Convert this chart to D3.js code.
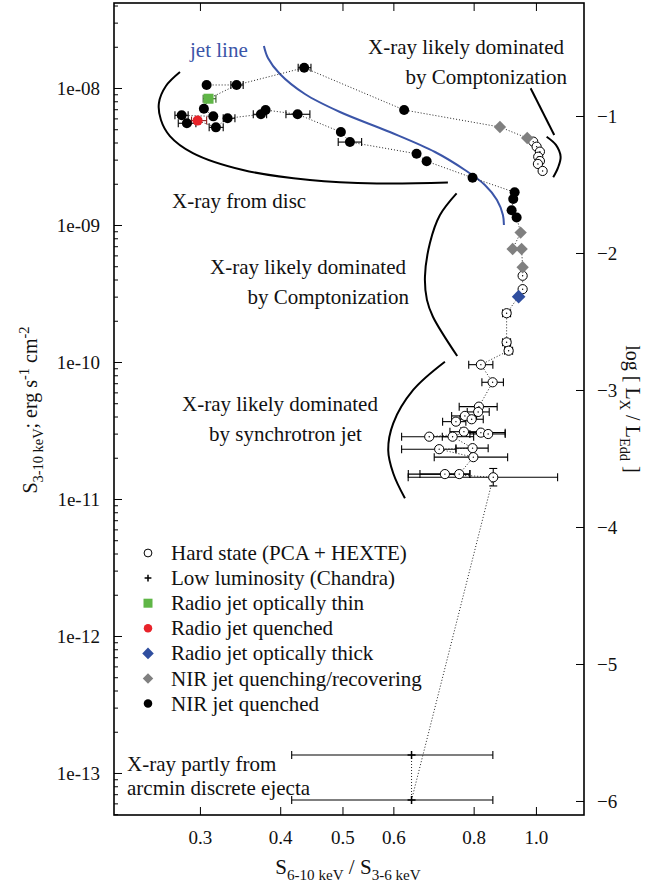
<!DOCTYPE html>
<html>
<head>
<meta charset="utf-8">
<script src="https://cdn.jsdelivr.net/npm/d3@7"></script>
<style>
  body { margin: 0; background: #fff; }
  svg { display: block; font-family: "Liberation Serif", "Times New Roman", serif; }
</style>
</head>
<body>
<svg id="chart" width="660" height="883"></svg>
<script>
// ---- data ----
var xTicks = [0.3, 0.4, 0.5, 0.6, 0.8, 1.0];
var yTicks = [1e-13, 1e-12, 1e-11, 1e-10, 1e-9, 1e-8];
var lumTicks = [-1, -2, -3, -4, -5, -6];
var lumOffset = 7.2044; // log Lx/LEdd = log S + offset

// hard state (PCA + HEXTE), open circles
var hardState = [
  {x: 0.9904, y: 4.06e-9}, {x: 1.0025, y: 3.73e-9}, {x: 1.0144, y: 3.43e-9},
  {x: 1.0083, y: 3.15e-9}, {x: 1.0144, y: 2.93e-9}, {x: 1.0072, y: 2.79e-9},
  {x: 1.0243, y: 2.48e-9},
  {x: 0.9535, y: 4.26e-10}, {x: 0.9535, y: 3.40e-10},
  {x: 0.9003, y: 2.27e-10, xlo: 0.8875, xhi: 0.9131},
  {x: 0.9003, y: 1.392e-10, xlo: 0.8875, xhi: 0.9131},
  {x: 0.9068, y: 1.209e-10, xlo: 0.894, xhi: 0.9197},
  {x: 0.8210, y: 9.56e-11, xlo: 0.786, xhi: 0.857},
  {x: 0.8563, y: 7.11e-11, xlo: 0.824, xhi: 0.890},
  {x: 0.8152, y: 4.72e-11, xlo: 0.7596, xhi: 0.8703},
  {x: 0.8131, y: 4.32e-11, xlo: 0.7818, xhi: 0.8459},
  {x: 0.7753, y: 4.04e-11, xlo: 0.7393, xhi: 0.8084},
  {x: 0.7943, y: 3.82e-11, xlo: 0.7615, xhi: 0.8280},
  {x: 0.7508, y: 3.67e-11, xlo: 0.7158, xhi: 0.7780},
  {x: 0.7726, y: 3.10e-11, xlo: 0.7348, xhi: 0.8162},
  {x: 0.8210, y: 3.05e-11, xlo: 0.7802, xhi: 0.8957},
  {x: 0.8427, y: 2.98e-11, xlo: 0.7893, xhi: 0.8957},
  {x: 0.6823, y: 2.85e-11, xlo: 0.618, xhi: 0.7419},
  {x: 0.7419, y: 2.85e-11, xlo: 0.715, xhi: 0.80},
  {x: 0.7071, y: 2.31e-11, xlo: 0.618, xhi: 0.7508},
  {x: 0.7969, y: 2.35e-11, xlo: 0.7508, xhi: 0.8427},
  {x: 0.7991, y: 2.02e-11, xlo: 0.6946, xhi: 0.9036},
  {x: 0.7217, y: 1.52e-11, xlo: 0.633, xhi: 0.7893},
  {x: 0.7597, y: 1.52e-11, xlo: 0.660, xhi: 0.7893},
  {x: 0.8582, y: 1.44e-11, xlo: 0.6327, xhi: 1.0808, ylo: 1.245e-11, yhi: 1.67e-11}
];

// low luminosity (Chandra)
var chandra = [
  {x: 0.6404, y: 1.353e-13, xlo: 0.4168, xhi: 0.857},
  {x: 0.6404, y: 6.35e-14, xlo: 0.4168, xhi: 0.857}
];

var radioThin = [{x: 0.3094, y: 8.35e-9, xlo: 0.3035, xhi: 0.3177}];
var radioQuenched = [{x: 0.2975, y: 5.78e-9, xlo: 0.2911, xhi: 0.3073}];
var radioThick = [{x: 0.9399, y: 3.00e-10}];

var nirRecover = [
  {x: 0.8790, y: 5.19e-9}, {x: 0.9693, y: 4.31e-9}, {x: 0.9467, y: 8.80e-10},
  {x: 0.9199, y: 6.68e-10}, {x: 0.9500, y: 6.68e-10}, {x: 0.9535, y: 4.91e-10}
];

var nirQuenched = [
  {x: 0.4359, y: 1.406e-8, xlo: 0.4266, xhi: 0.4466},
  {x: 0.3073, y: 1.052e-8},
  {x: 0.3421, y: 1.052e-8, xlo: 0.3352, xhi: 0.3503},
  {x: 0.3043, y: 7.06e-9},
  {x: 0.2810, y: 6.32e-9, xlo: 0.2743, xhi: 0.2876},
  {x: 0.3147, y: 6.21e-9},
  {x: 0.3313, y: 6.01e-9, xlo: 0.3261, xhi: 0.3401},
  {x: 0.2863, y: 5.53e-9, xlo: 0.2776, xhi: 0.2957},
  {x: 0.3177, y: 5.16e-9, xlo: 0.3101, xhi: 0.3261},
  {x: 0.3733, y: 6.43e-9, xlo: 0.3632, xhi: 0.3810},
  {x: 0.3796, y: 6.91e-9},
  {x: 0.4257, y: 6.43e-9, xlo: 0.4083, xhi: 0.4449},
  {x: 0.6236, y: 6.91e-9},
  {x: 0.4971, y: 4.77e-9},
  {x: 0.5135, y: 4.03e-9, xlo: 0.4924, xhi: 0.5355},
  {x: 0.6520, y: 3.31e-9},
  {x: 0.6760, y: 2.92e-9},
  {x: 0.7969, y: 2.21e-9},
  {x: 0.9266, y: 1.733e-9},
  {x: 0.9219, y: 1.548e-9},
  {x: 0.9166, y: 1.281e-9},
  {x: 0.9332, y: 1.134e-9}
];

// time ordering of the dotted track: [series, index]
var trackUpper = [["nq", 1], ["nq", 2], ["nq", 0], ["nq", 12], ["nr", 0], ["nr", 1],
  ["hs", 0], ["hs", 1], ["hs", 2], ["hs", 3], ["hs", 4], ["hs", 5], ["hs", 6]];
var trackLower = [["nq", 2], ["rt", 0], ["nq", 3], ["nq", 5], ["nq", 4], ["nq", 7], ["rq", 0],
  ["nq", 8], ["nq", 6], ["nq", 9], ["nq", 10], ["nq", 11], ["nq", 13], ["nq", 14], ["nq", 15],
  ["nq", 16], ["nq", 17], ["nq", 18], ["nq", 19], ["nq", 20], ["nq", 21],
  ["nr", 2], ["nr", 3], ["nr", 4], ["nr", 5], ["hs", 7], ["hs", 8], ["rk", 0],
  ["hs", 9], ["hs", 10], ["hs", 11], ["hs", 12], ["hs", 13], ["hs", 14], ["hs", 15],
  ["hs", 17], ["hs", 16], ["hs", 18], ["hs", 19], ["hs", 21], ["hs", 20], ["hs", 22],
  ["hs", 23], ["hs", 25], ["hs", 24], ["hs", 26], ["hs", 28], ["hs", 27], ["hs", 29],
  ["ch", 1], ["ch", 0]];

// annotation curves in data coordinates
var jetLine = [[0.3773, 2.025e-8], [0.3828, 1.656e-8], [0.3996, 1.265e-8], [0.4370, 9.04e-9],
  [0.4955, 6.68e-9], [0.5925, 4.77e-9], [0.6966, 3.41e-9], [0.7754, 2.52e-9],
  [0.8329, 1.959e-9], [0.8697, 1.522e-9], [0.8885, 1.183e-9], [0.8917, 1.0e-9]];
var discCurve = [[0.2793, 1.308e-8], [0.2656, 1.034e-8], [0.2590, 7.77e-9], [0.2609, 5.84e-9],
  [0.2694, 4.46e-9], [0.2925, 3.35e-9], [0.3500, 2.52e-9], [0.4449, 2.13e-9],
  [0.5657, 2.01e-9], [0.7295, 2.04e-9]];
var comptTopLine = [[0.9812, 9.95e-9], [1.0678, 4.54e-9]];
var comptTopCurve = [[1.0391, 4.41e-9], [1.0743, 3.84e-9], [1.0925, 3.15e-9],
  [1.0820, 2.61e-9], [1.0639, 2.23e-9]];
var comptMidCurve = [[0.7526, 1.703e-9], [0.7090, 1.183e-9], [0.6840, 7.39e-10],
  [0.6719, 4.19e-10], [0.6767, 2.84e-10], [0.6914, 2.14e-10], [0.7542, 1.106e-10]];
var synchCurve = [[0.7217, 1.005e-10], [0.6442, 6.25e-11], [0.5997, 3.57e-11],
  [0.5890, 2.28e-11], [0.5997, 1.54e-11], [0.6254, 1.012e-11]];

var legendItems = [
  {label: "Hard state (PCA + HEXTE)", kind: "open"},
  {label: "Low luminosity (Chandra)", kind: "plus"},
  {label: "Radio jet optically thin", kind: "square"},
  {label: "Radio jet quenched", kind: "red"},
  {label: "Radio jet optically thick", kind: "blue"},
  {label: "NIR jet quenching/recovering", kind: "gray"},
  {label: "NIR jet quenched", kind: "black"}
];

// ---- layout ----
var plot = {left: 114, right: 584, top: 3, bottom: 815};
var green = "#5fb646", red = "#e8232a", blue = "#2f4e9f", gray = "#808080", jetBlue = "#3b55a8";
var serif = "Liberation Serif, Times New Roman, serif";

var svg = d3.select("#chart");

var x = d3.scaleLog().domain([0.2205, 1.188]).range([plot.left, plot.right]);
var y = d3.scaleLog().domain([4.935e-14, 4.173e-8]).range([plot.bottom, plot.top]);
var yLum = d3.scaleLinear()
  .domain(y.domain().map(function(v) { return Math.log10(v) + lumOffset; }))
  .range([plot.bottom, plot.top]);

// axes, ticks inside the frame
var fmtY = function(d) {
  var e = Math.round(-Math.log10(d));
  return "1e-" + (e < 10 ? "0" + e : e);
};
var minorY = [];
[1e-14].concat(yTicks).forEach(function(t) {
  for (var k = 2; k <= 9; k++) minorY.push(t * k);
});
minorY = minorY.filter(function(v) { return v > y.domain()[0] && v < y.domain()[1]; });

var gx = svg.append("g")
  .attr("transform", "translate(0," + plot.bottom + ")")
  .call(d3.axisBottom(x).tickValues(xTicks).tickSize(-8).tickPadding(16).tickFormat(d3.format(".1f")));
svg.append("g")
  .attr("transform", "translate(0," + plot.top + ")")
  .call(d3.axisTop(x).tickValues(xTicks).tickSize(-8).tickFormat(""));
var gy = svg.append("g")
  .attr("transform", "translate(" + plot.left + ",0)")
  .call(d3.axisLeft(y).tickValues(yTicks).tickSize(-8).tickPadding(14).tickFormat(fmtY));
svg.append("g")
  .attr("transform", "translate(" + plot.left + ",0)")
  .call(d3.axisLeft(y).tickValues(minorY).tickSize(-4).tickFormat(""));
var gr = svg.append("g")
  .attr("transform", "translate(" + plot.right + ",0)")
  .call(d3.axisRight(yLum).tickValues(lumTicks).tickSize(-8).tickPadding(13).tickFormat(d3.format("d")));

svg.selectAll(".domain").remove();
svg.selectAll(".tick line").attr("stroke", "#000").attr("stroke-width", 1);
[gx, gy, gr].forEach(function(g) {
  g.attr("font-family", serif).attr("font-size", 19);
  g.selectAll("text").attr("fill", "#111");
});

// frame
svg.append("rect")
  .attr("x", plot.left).attr("y", plot.top)
  .attr("width", plot.right - plot.left).attr("height", plot.bottom - plot.top)
  .attr("fill", "none").attr("stroke", "#000").attr("stroke-width", 1.6);

// rich text helper for sub/superscripts
function richText(sel, parts, base) {
  parts.forEach(function(p) {
    var t = sel.append("tspan").text(p[0]);
    if (p[1] === "sub") t.attr("dy", base * 0.3).style("font-size", (base * 0.72) + "px");
    else if (p[1] === "sup") t.attr("dy", -base * 0.42).style("font-size", (base * 0.72) + "px");
    else if (p[1] === "upFromSub") t.attr("dy", -base * 0.3);
    else if (p[1] === "downFromSup") t.attr("dy", base * 0.42);
  });
}

// axis titles
var tLeft = svg.append("text")
  .attr("transform", "translate(37,410) rotate(-90)")
  .attr("text-anchor", "middle").style("font-size", "20px").attr("fill", "#111");
richText(tLeft, [["S"], ["3-10 keV", "sub"], ["; erg s", "upFromSub"], ["-1", "sup"],
  [" cm", "downFromSup"], ["-2", "sup"]], 20);

var tRight = svg.append("text")
  .attr("transform", "translate(626,409) rotate(90)")
  .attr("text-anchor", "middle").style("font-size", "20px").attr("fill", "#111");
richText(tRight, [["log [ L"], ["X", "sub"], [" / L", "upFromSub"], ["Edd", "sub"], [" ]", "upFromSub"]], 20);

var tBottom = svg.append("text")
  .attr("x", 348).attr("y", 874)
  .attr("text-anchor", "middle").style("font-size", "21px").attr("fill", "#111");
richText(tBottom, [["S"], ["6-10 keV", "sub"], [" / S", "upFromSub"], ["3-6 keV", "sub"]], 21);

// annotation curves
var curve = d3.line()
  .x(function(d) { return x(d[0]); })
  .y(function(d) { return y(d[1]); })
  .curve(d3.curveCatmullRom.alpha(0.5));

[discCurve, comptTopLine, comptTopCurve, comptMidCurve, synchCurve].forEach(function(c) {
  svg.append("path").attr("d", curve(c))
    .attr("fill", "none").attr("stroke", "#000").attr("stroke-width", 2);
});
svg.append("path").attr("d", curve(jetLine))
  .attr("fill", "none").attr("stroke", jetBlue).attr("stroke-width", 2);

// dotted time track
var series = {hs: hardState, ch: chandra, rt: radioThin, rq: radioQuenched,
  rk: radioThick, nr: nirRecover, nq: nirQuenched};
var trackLine = d3.line()
  .x(function(d) { return x(series[d[0]][d[1]].x); })
  .y(function(d) { return y(series[d[0]][d[1]].y); });
[trackUpper, trackLower].forEach(function(tr) {
  svg.append("path").attr("d", trackLine(tr))
    .attr("fill", "none").attr("stroke", "#222").attr("stroke-width", 1)
    .attr("stroke-dasharray", "1,2");
});

// error bars
function errorBars(data, color) {
  var g = svg.append("g").attr("stroke", color).attr("stroke-width", 1.1);
  data.filter(function(d) { return d.xlo; }).forEach(function(d) {
    var yy = y(d.y);
    g.append("line").attr("x1", x(d.xlo)).attr("x2", x(d.xhi)).attr("y1", yy).attr("y2", yy);
    g.append("line").attr("x1", x(d.xlo)).attr("x2", x(d.xlo)).attr("y1", yy - 4).attr("y2", yy + 4);
    g.append("line").attr("x1", x(d.xhi)).attr("x2", x(d.xhi)).attr("y1", yy - 4).attr("y2", yy + 4);
  });
  data.filter(function(d) { return d.ylo; }).forEach(function(d) {
    var xx = x(d.x);
    g.append("line").attr("x1", xx).attr("x2", xx).attr("y1", y(d.ylo)).attr("y2", y(d.yhi));
    g.append("line").attr("x1", xx - 4).attr("x2", xx + 4).attr("y1", y(d.ylo)).attr("y2", y(d.ylo));
    g.append("line").attr("x1", xx - 4).attr("x2", xx + 4).attr("y1", y(d.yhi)).attr("y2", y(d.yhi));
  });
}
errorBars(hardState, "#000");
errorBars(chandra, "#000");
errorBars(nirQuenched, "#000");
errorBars(radioThin, "#2d5a1e");
errorBars(radioQuenched, "#8a1d1d");

// markers
function drawMarker(g, kind, cx, cy, s) {
  s = s || 1;
  if (kind === "open") {
    g.append("circle").attr("cx", cx).attr("cy", cy).attr("r", 4.6 * s)
      .attr("fill", "#fff").attr("stroke", "#000").attr("stroke-width", 1);
    if (s === 1) g.append("circle").attr("cx", cx).attr("cy", cy).attr("r", 0.7).attr("fill", "#000");
  } else if (kind === "black") {
    g.append("circle").attr("cx", cx).attr("cy", cy).attr("r", 5 * s).attr("fill", "#000");
  } else if (kind === "red") {
    g.append("circle").attr("cx", cx).attr("cy", cy).attr("r", 5 * s).attr("fill", red);
  } else if (kind === "square") {
    var h = 5 * s;
    g.append("rect").attr("x", cx - h).attr("y", cy - h).attr("width", 2 * h).attr("height", 2 * h).attr("fill", green);
  } else if (kind === "gray" || kind === "blue") {
    var a = (kind === "blue" ? 6.8 : 6.2) * s;
    g.append("path").attr("d", "M" + cx + "," + (cy - a) + "L" + (cx + a) + "," + cy +
      "L" + cx + "," + (cy + a) + "L" + (cx - a) + "," + cy + "Z")
      .attr("fill", kind === "blue" ? blue : gray);
  } else if (kind === "plus") {
    var p = 4 * s;
    g.append("path").attr("d", "M" + (cx - p) + "," + cy + "H" + (cx + p) + "M" + cx + "," + (cy - p) + "V" + (cy + p))
      .attr("stroke", "#000").attr("stroke-width", 1.5);
  }
}
var gm = svg.append("g");
[[hardState, "open"], [chandra, "plus"], [nirQuenched, "black"], [nirRecover, "gray"],
 [radioThin, "square"], [radioQuenched, "red"], [radioThick, "blue"]].forEach(function(s) {
  s[0].forEach(function(d) { drawMarker(gm, s[1], x(d.x), y(d.y)); });
});

// annotation text
var notes = [
  {t: "jet line", x: 190, y: 57, c: jetBlue},
  {t: "X-ray likely dominated", x: 564, y: 54, a: "end"},
  {t: "by Comptonization", x: 567, y: 84, a: "end"},
  {t: "X-ray from disc", x: 172, y: 208},
  {t: "X-ray likely dominated", x: 406, y: 274, a: "end"},
  {t: "by Comptonization", x: 409, y: 304, a: "end"},
  {t: "X-ray likely dominated", x: 182, y: 411},
  {t: "by synchrotron jet", x: 209, y: 441},
  {t: "X-ray partly from", x: 127, y: 771},
  {t: "arcmin discrete ejecta", x: 127, y: 795}
];
svg.append("g").selectAll("text").data(notes).join("text")
  .attr("x", function(d) { return d.x; }).attr("y", function(d) { return d.y; })
  .attr("text-anchor", function(d) { return d.a || "start"; })
  .attr("fill", function(d) { return d.c || "#111"; })
  .style("font-size", "21px")
  .text(function(d) { return d.t; });

// legend
var lg = svg.append("g");
legendItems.forEach(function(item, i) {
  var cy = 553 + i * 25.1;
  drawMarker(lg, item.kind, 148, cy, item.kind === "square" ? 0.9 : 0.85);
  lg.append("text").attr("x", 171).attr("y", cy + 7)
    .attr("fill", "#111").style("font-size", "21px").text(item.label);
});
</script>
</body>
</html>
